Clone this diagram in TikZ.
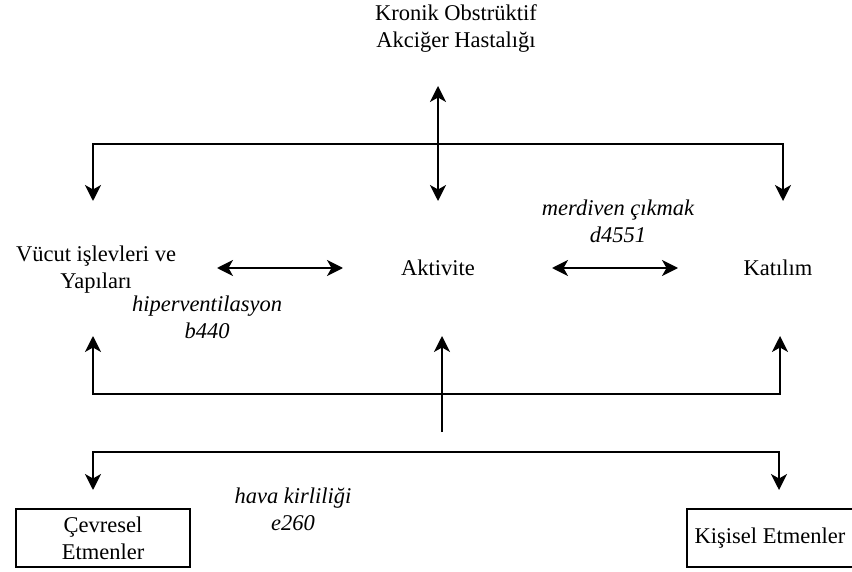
\documentclass[tikz,border=0pt]{standalone}
\usepackage{fontspec}
\setmainfont{Liberation Serif}
\usetikzlibrary{arrows.meta}
\begin{document}
\begin{tikzpicture}[x=1pt,y=-1pt,
  txt/.style={inner sep=0pt,align=center,font=\fontsize{22.5}{27}\selectfont},
  code/.style={txt,font=\fontsize{22.5}{27}\selectfont\itshape},
  factor/.style={txt,draw,line width=1.6pt,minimum height=58pt},
  tip/.style={Stealth[length=16pt,width=16pt,inset=4.5pt]},
  conn/.style={line width=1.8pt,arrows={Stealth[length=16pt,width=16pt,inset=4.5pt]-Stealth[length=16pt,width=16pt,inset=4.5pt]}},
  oneway/.style={line width=1.8pt,-{Stealth[length=16pt,width=16pt,inset=4.5pt]}}]
\useasboundingbox (0,0) rectangle (852,572);
\clip (0,0) rectangle (852,572);

% labels and factor boxes
\node[txt] (kol) at (456,29) {Kronik Obstrüktif\\Akciğer Hastalığı};
\node[txt] (vucut) at (96,270) {Vücut işlevleri ve\\Yapıları};
\node[txt] (akt) at (438,268) {Aktivite};
\node[txt] (kat) at (778,268) {Katılım};
\node[code] (hiper) at (207,317) {hiperventilasyon\\b440};
\node[code] (merd) at (618,221) {merdiven çıkmak\\d4551};
\node[code] (hava) at (293,509) {hava kirliliği\\e260};
\node[factor,minimum width=174pt] (cevre) at (103,538) {Çevresel\\Etmenler};
\node[factor,minimum width=166pt] (kisi) at (770,538) {Kişisel Etmenler};

% connector ends
\coordinate (kolEnd) at (438,86);
\coordinate (aktTop) at (438,201);
\coordinate (vTop) at (93,201);
\coordinate (tl) at (93,144);
\coordinate (tr) at (783,144);
\coordinate (kTop) at (783,201);
\coordinate (vR) at (217,268);
\coordinate (aL) at (343,268);
\coordinate (aR) at (552,268);
\coordinate (kL) at (678,268);
\coordinate (vBot) at (93,336);
\coordinate (bl) at (93,394);
\coordinate (br) at (780,394);
\coordinate (kBot) at (780,336);
\coordinate (aBot) at (442,336);
\coordinate (stem) at (442,432);
\coordinate (fl) at (93,452);
\coordinate (fr) at (779,452);
\coordinate (cTop) at (93,490);
\coordinate (kiTop) at (779,490);

% disease <-> activity
\draw[conn] (kolEnd) -- (aktTop);
% disease bracket to body and participation
\draw[conn] (vTop) -- (tl) -- (tr) -- (kTop);
% horizontal links
\draw[conn] (vR) -- (aL);
\draw[conn] (aR) -- (kL);
% contextual factors feeding the three components
\draw[conn] (vBot) -- (bl) -- (br) -- (kBot);
\draw[oneway] (stem) -- (aBot);
\draw[conn] (cTop) -- (fl) -- (fr) -- (kiTop);
\end{tikzpicture}
\end{document}
